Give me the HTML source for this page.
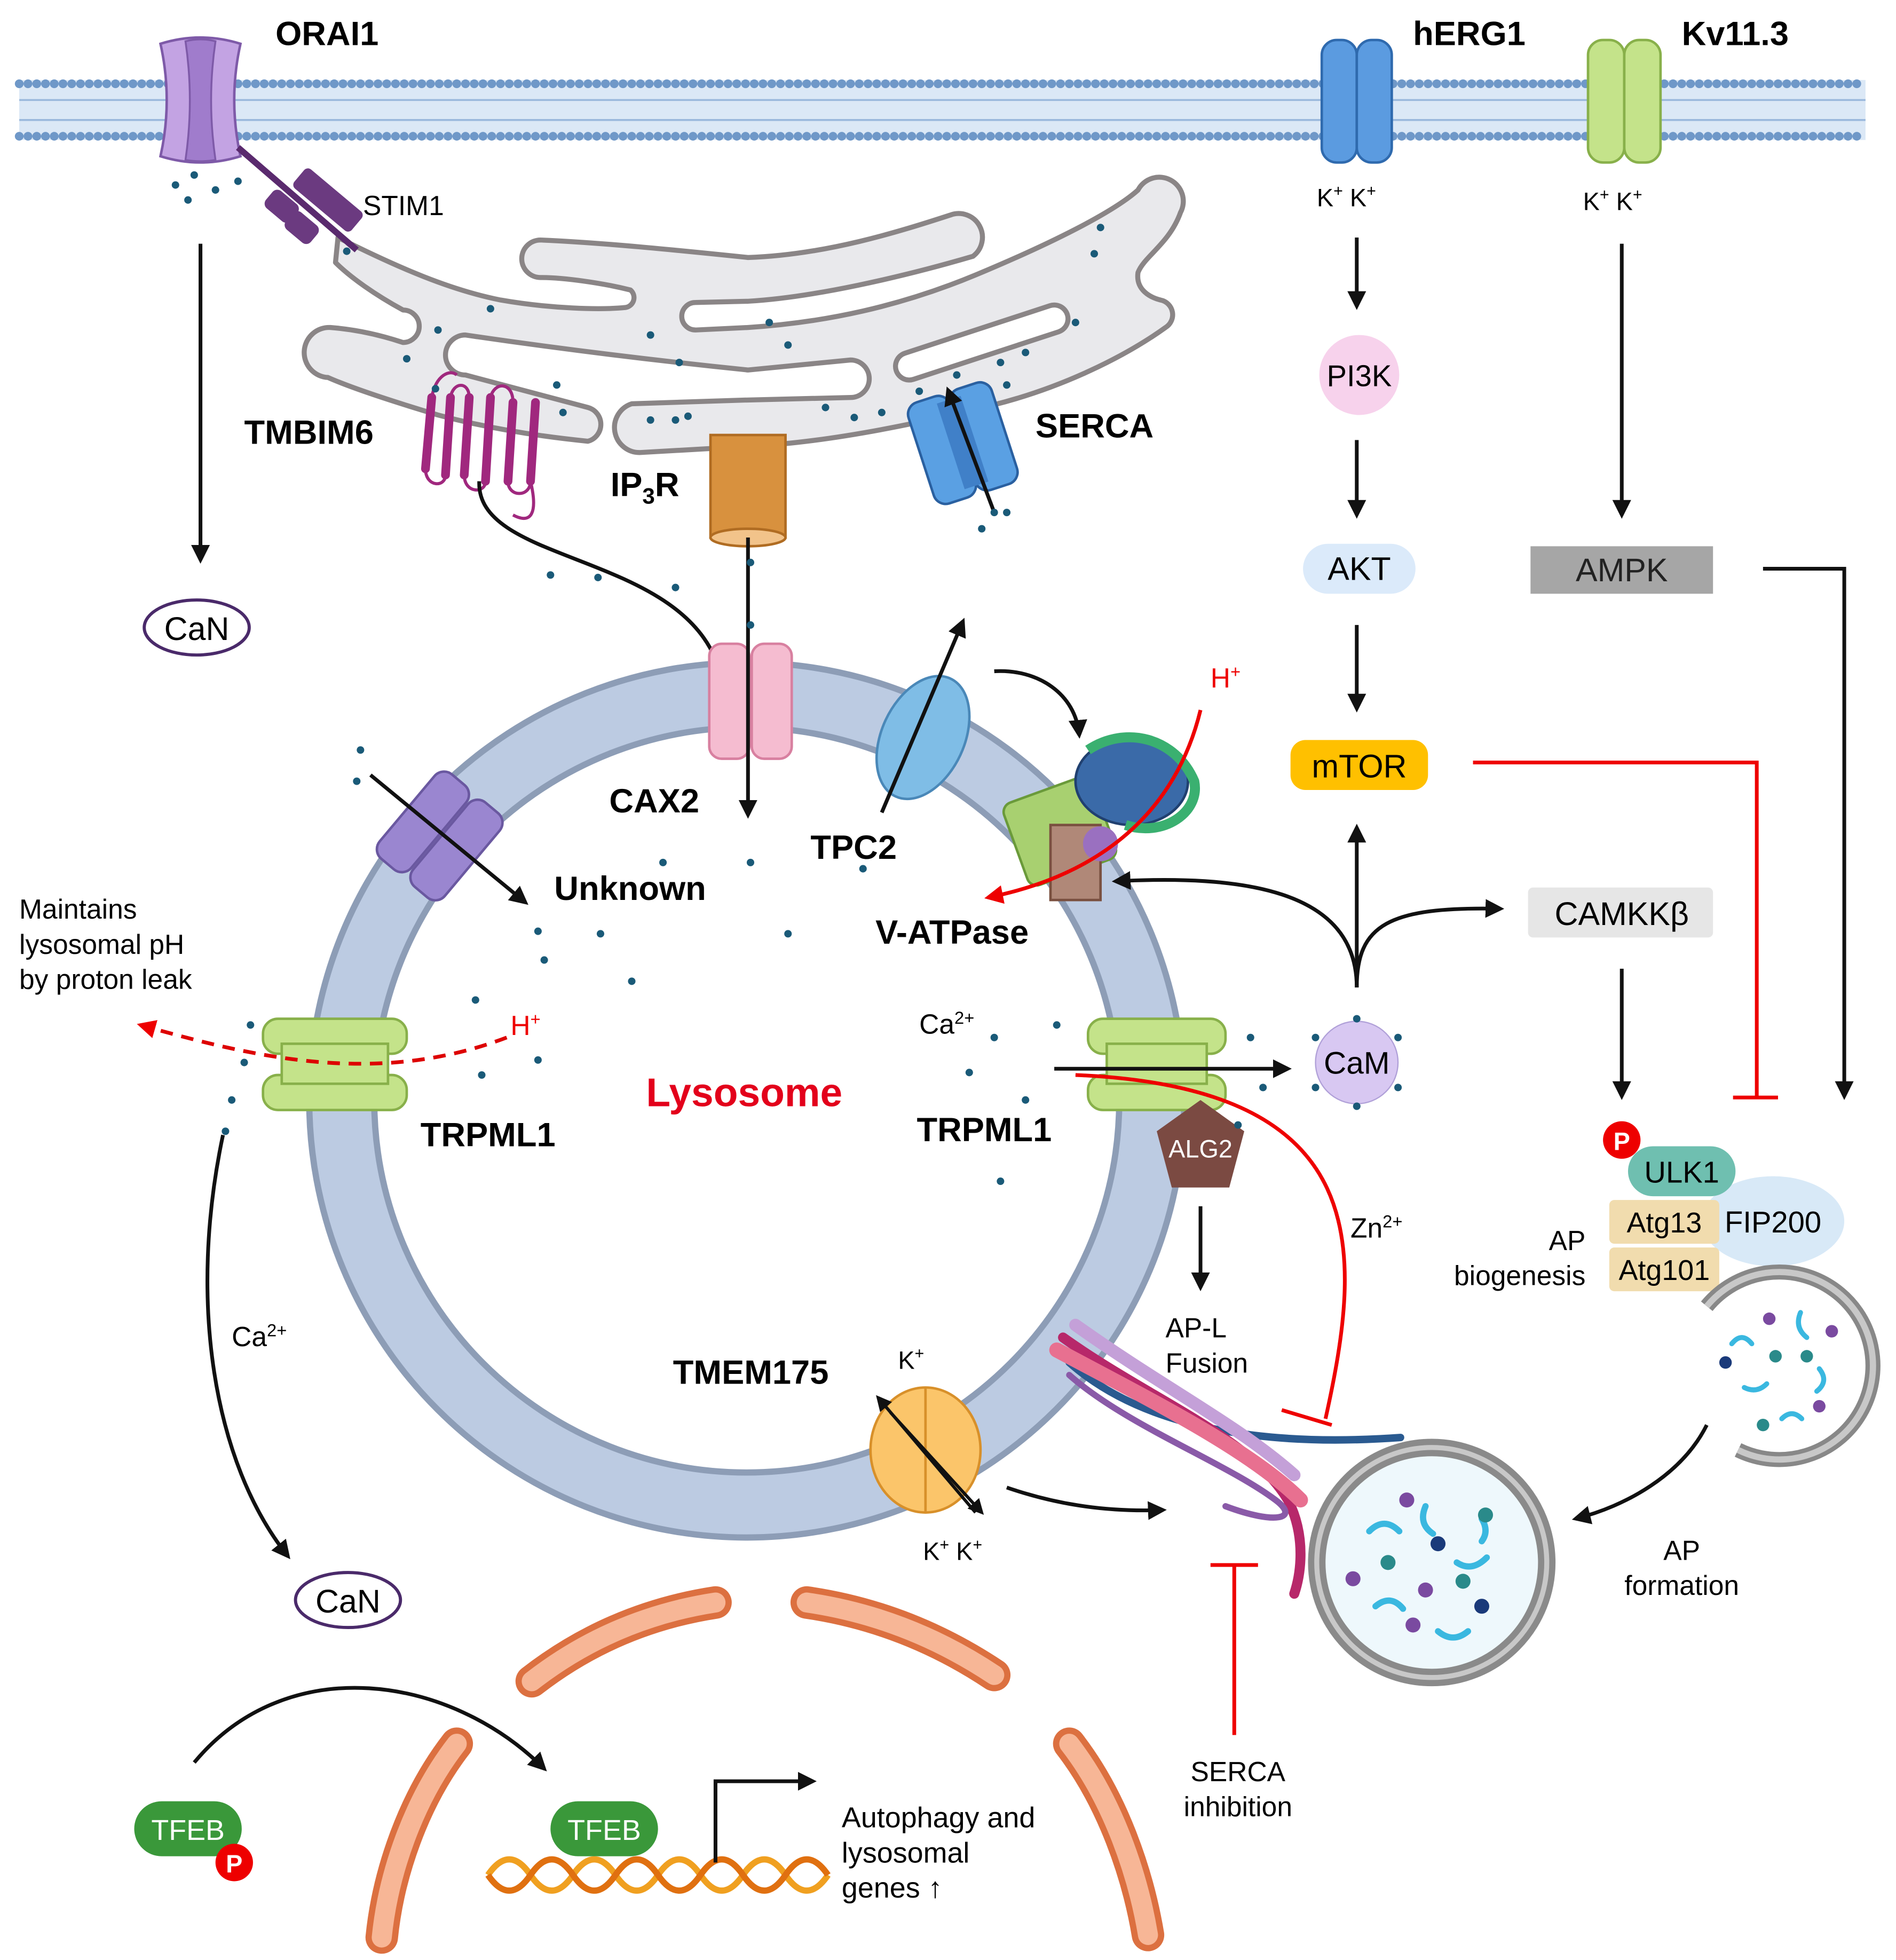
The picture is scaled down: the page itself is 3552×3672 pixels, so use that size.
<!DOCTYPE html>
<html><head><meta charset="utf-8"><style>html,body{margin:0;padding:0;background:#fff}svg{display:block}text{font-family:"Liberation Sans",sans-serif}</style></head><body>
<svg width="3552" height="3672" viewBox="0 0 1516 1568" xmlns="http://www.w3.org/2000/svg">
<defs>
<marker id="a" viewBox="0 0 10 10" refX="8" refY="5" markerWidth="5" markerHeight="5" orient="auto"><path d="M0,0L10,5L0,10z" fill="#111"/></marker>
<marker id="r" viewBox="0 0 10 10" refX="8" refY="5" markerWidth="5" markerHeight="5" orient="auto"><path d="M0,0L10,5L0,10z" fill="#e00"/></marker>
</defs>
<!-- membrane -->
<rect x="15" y="64" width="1477" height="48" fill="#dbe8f6"/>
<line x1="15" y1="67" x2="1492" y2="67" stroke="#6f98c8" stroke-width="7" stroke-dasharray="0 7" stroke-linecap="round"/>
<line x1="15" y1="109" x2="1492" y2="109" stroke="#6f98c8" stroke-width="7" stroke-dasharray="0 7" stroke-linecap="round"/>
<line x1="15" y1="80" x2="1492" y2="80" stroke="#9ab8dc" stroke-width="1.5"/>
<line x1="15" y1="96" x2="1492" y2="96" stroke="#9ab8dc" stroke-width="1.5"/>
<!-- channels -->
<path d="M128 35 Q160 25 192 35 Q182 80 192 125 Q160 135 128 125 Q138 80 128 35Z" fill="#c3a3e3" stroke="#7e5aa8" stroke-width="2"/>
<path d="M148 33 Q160 30 172 33 Q165 80 172 128 Q160 130 148 128 Q155 80 148 33Z" fill="#a07ccc" stroke="#7e5aa8" stroke-width="1.5"/>
<g><rect x="1057" y="32" width="28" height="98" rx="12" fill="#5b9be0" stroke="#2f6aae" stroke-width="2"/><rect x="1085" y="32" width="28" height="98" rx="12" fill="#5b9be0" stroke="#2f6aae" stroke-width="2"/></g>
<g><rect x="1270" y="32" width="29" height="98" rx="12" fill="#c4e38a" stroke="#88b04a" stroke-width="2"/><rect x="1299" y="32" width="29" height="98" rx="12" fill="#c4e38a" stroke="#88b04a" stroke-width="2"/></g>
<text x="220" y="36" font-size="27" font-weight="bold">ORAI1</text>
<text x="1130" y="36" font-size="27" font-weight="bold">hERG1</text>
<text x="1345" y="36" font-size="27" font-weight="bold">Kv11.3</text>
<!-- ER -->
<path d="M270 190 C320 215 360 232 400 240 C440 247 480 248 500 246 A8 8 0 0 0 504 232 C480 226 450 222 432 222 A15 15 0 0 1 432 192 C480 194 540 200 598 206 C660 204 720 185 760 172 A19 19 0 0 1 778 205 C720 222 650 238 598 241 L556 242 A11 11 0 0 0 556 264 L598 262 C660 258 720 245 780 220 C840 195 890 170 910 152 A18 18 0 0 1 944 170 C935 195 915 205 910 218 C908 232 920 238 928 240 A12 12 0 0 1 932 262 C900 285 850 310 794 324 C730 340 660 354 600 357 L512 362 A20 20 0 0 1 505 323 L598 320 L680 318 A15 15 0 0 0 680 288 L598 296 C520 288 440 278 372 268 A16 16 0 0 0 372 300 C410 310 440 318 470 326 A14 14 0 0 1 470 353 C420 348 380 340 350 332 C310 320 280 310 262 302 A20 20 0 0 1 264 262 C290 264 310 270 322 274 A13 13 0 0 0 322 248 C300 236 280 222 268 210 Z" fill="#e9e9ec" stroke="#8a8586" stroke-width="4" stroke-linejoin="round"/>
<line x1="727" y1="293" x2="843" y2="255" stroke="#8a8586" stroke-width="26" stroke-linecap="round"/>
<line x1="727" y1="293" x2="843" y2="255" stroke="#fff" stroke-width="18" stroke-linecap="round"/>
<!-- STIM1 -->
<path d="M190 118 L285 200" stroke="#5a2a6e" stroke-width="5"/>
<rect x="232" y="150" width="60" height="20" rx="4" fill="#6b3a80" transform="rotate(40 262 160)"/>
<rect x="212" y="156" width="26" height="18" rx="5" fill="#6b3a80" transform="rotate(40 225 165)"/>
<rect x="228" y="173" width="26" height="18" rx="5" fill="#6b3a80" transform="rotate(40 241 182)"/>
<text x="290" y="172" font-size="22">STIM1</text>
<!-- TMBIM6 -->
<g stroke="#a0287e" stroke-width="7" stroke-linecap="round" fill="none">
<path d="M345 318 L340 375"/><path d="M360 318 L356 380"/><path d="M375 318 L371 380"/><path d="M392 318 L388 385"/><path d="M410 322 L406 385"/><path d="M428 322 L424 385"/>
</g>
<g stroke="#a0287e" stroke-width="2.5" fill="none">
<path d="M360 318 C362 305 375 305 375 318 M392 318 C395 305 410 305 410 322 M340 375 C340 390 356 390 356 380 M371 380 C371 395 388 395 388 385 M406 385 C406 398 424 398 424 385 M424 385 C430 410 425 420 410 412 M345 318 C348 300 360 295 365 300"/>
</g>
<text x="195" y="355" font-size="27" font-weight="bold">TMBIM6</text>
<!-- IP3R -->
<rect x="568" y="348" width="60" height="82" fill="#d8913e" stroke="#b06c22" stroke-width="2"/>
<ellipse cx="598" cy="430" rx="30" ry="7" fill="#f2c38a" stroke="#b06c22" stroke-width="2"/>
<text x="488" y="397" font-size="27" font-weight="bold">IP<tspan font-size="18" dy="6">3</tspan><tspan dy="-6">R</tspan></text>
<!-- SERCA -->
<g transform="rotate(-18 770 355)"><rect x="735" y="312" width="35" height="85" rx="10" fill="#5aa0e3" stroke="#2a60a0" stroke-width="2"/><rect x="770" y="312" width="35" height="85" rx="10" fill="#5aa0e3" stroke="#2a60a0" stroke-width="2"/><rect x="760" y="318" width="20" height="72" fill="#4080c8"/></g>
<line x1="795" y1="410" x2="758" y2="312" stroke="#111" stroke-width="3" marker-end="url(#a)"/>
<text x="828" y="350" font-size="27" font-weight="bold">SERCA</text>
<!-- CaN top -->
<line x1="160" y1="195" x2="160" y2="448" stroke="#111" stroke-width="3" marker-end="url(#a)"/>
<ellipse cx="157" cy="502" rx="42" ry="22" fill="#fff" stroke="#4a2a6a" stroke-width="2.5"/>
<text x="157" y="512" font-size="26" text-anchor="middle">CaN</text>
<!-- Lysosome -->
<circle cx="597" cy="880" r="324" fill="none" stroke="#bccbe2" stroke-width="50"/>
<circle cx="597" cy="880" r="350" fill="none" stroke="#8d9db6" stroke-width="5"/>
<circle cx="597" cy="880" r="298" fill="none" stroke="#8d9db6" stroke-width="5"/>
<text x="595" y="885" font-size="32" font-weight="bold" fill="#e3001b" text-anchor="middle">Lysosome</text>
<path d="M383 385 C380 455 560 440 578 548" fill="none" stroke="#111" stroke-width="3" marker-end="url(#a)"/>
<!-- CAX2 -->
<g><rect x="567" y="515" width="32" height="92" rx="10" fill="#f5bcd0" stroke="#d880a0" stroke-width="2"/><rect x="601" y="515" width="32" height="92" rx="10" fill="#f5bcd0" stroke="#d880a0" stroke-width="2"/></g>
<line x1="598" y1="430" x2="598" y2="652" stroke="#111" stroke-width="3" marker-end="url(#a)"/>
<text x="487" y="650" font-size="27" font-weight="bold">CAX2</text>
<!-- TPC2 -->
<ellipse cx="738" cy="590" rx="33" ry="52" fill="#7fbde6" stroke="#4a88b8" stroke-width="2" transform="rotate(25 738 590)"/>
<line x1="705" y1="650" x2="770" y2="497" stroke="#111" stroke-width="3" marker-end="url(#a)"/>
<text x="648" y="687" font-size="27" font-weight="bold">TPC2</text>
<path d="M795 537 C830 535 860 555 863 588" fill="none" stroke="#111" stroke-width="3" marker-end="url(#a)"/>
<!-- V-ATPase -->
<g>
<rect x="810" y="630" width="75" height="70" rx="8" fill="#a8d070" stroke="#6a9a3a" stroke-width="2" transform="rotate(-20 847 665)"/>
<rect x="840" y="660" width="40" height="60" fill="#b08878" stroke="#7a5040" stroke-width="2"/>
<ellipse cx="905" cy="625" rx="45" ry="35" fill="#3a6aa8" stroke="#204070" stroke-width="2"/>
<path d="M870 600 C900 580 940 590 955 625 C960 650 930 670 900 660" fill="none" stroke="#3ab070" stroke-width="8"/>
<circle cx="880" cy="675" r="14" fill="#9a70c0"/>
</g>
<text x="968" y="550" font-size="22" fill="#e00">H<tspan font-size="14" dy="-8">+</tspan></text>
<path d="M960 568 C940 650 880 700 790 718" fill="none" stroke="#e00" stroke-width="3" marker-end="url(#r)"/>
<text x="700" y="755" font-size="27" font-weight="bold">V-ATPase</text>
<!-- Unknown -->
<g transform="rotate(40 352 668)"><rect x="318" y="625" width="33" height="88" rx="10" fill="#9a86d0" stroke="#6a58a0" stroke-width="2"/><rect x="353" y="625" width="33" height="88" rx="10" fill="#9a86d0" stroke="#6a58a0" stroke-width="2"/></g>
<line x1="296" y1="620" x2="420" y2="722" stroke="#111" stroke-width="3" marker-end="url(#a)"/>
<text x="443" y="720" font-size="27" font-weight="bold">Unknown</text>
<text x="15" y="735" font-size="22">Maintains</text>
<text x="15" y="763" font-size="22">lysosomal pH</text>
<text x="15" y="791" font-size="22">by proton leak</text>
<!-- TRPML1 left -->
<g><rect x="210" y="815" width="115" height="28" rx="12" fill="#c4e38a" stroke="#88b04a" stroke-width="2"/><rect x="210" y="860" width="115" height="28" rx="12" fill="#c4e38a" stroke="#88b04a" stroke-width="2"/><rect x="225" y="835" width="85" height="32" fill="#c4e38a" stroke="#88b04a" stroke-width="2"/></g>
<path d="M405 830 C300 870 200 845 112 820" fill="none" stroke="#d00" stroke-width="3" stroke-dasharray="10 7" marker-end="url(#r)"/>
<text x="408" y="828" font-size="22" fill="#e00">H<tspan font-size="14" dy="-8">+</tspan></text>
<text x="336" y="917" font-size="27" font-weight="bold">TRPML1</text>
<!-- TRPML1 right -->
<g><rect x="870" y="815" width="110" height="28" rx="12" fill="#c4e38a" stroke="#88b04a" stroke-width="2"/><rect x="870" y="860" width="110" height="28" rx="12" fill="#c4e38a" stroke="#88b04a" stroke-width="2"/><rect x="885" y="835" width="80" height="32" fill="#c4e38a" stroke="#88b04a" stroke-width="2"/></g>
<text x="735" y="827" font-size="22">Ca<tspan font-size="14" dy="-8">2+</tspan></text>
<text x="733" y="913" font-size="27" font-weight="bold">TRPML1</text>
<line x1="843" y1="855" x2="1030" y2="855" stroke="#111" stroke-width="3" marker-end="url(#a)"/>
<path d="M860 860 C1100 870 1090 1000 1060 1135" fill="none" stroke="#e00" stroke-width="3"/>
<line x1="1025" y1="1128" x2="1065" y2="1140" stroke="#e00" stroke-width="3"/>
<text x="1080" y="990" font-size="22">Zn<tspan font-size="14" dy="-8">2+</tspan></text>
<polygon points="960,880 995,905 983,950 937,950 925,905" fill="#7b4a42"/>
<text x="960" y="926" font-size="20" fill="#fff" text-anchor="middle">ALG2</text>
<line x1="960" y1="965" x2="960" y2="1030" stroke="#111" stroke-width="3" marker-end="url(#a)"/>
<text x="932" y="1070" font-size="22">AP-L</text>
<text x="932" y="1098" font-size="22">Fusion</text>
<!-- CaM -->
<circle cx="1085" cy="850" r="33" fill="#d8c8f2" stroke="#b0a0d8" stroke-width="1"/>
<text x="1085" y="859" font-size="25" text-anchor="middle">CaM</text>
<line x1="1085" y1="790" x2="1085" y2="662" stroke="#111" stroke-width="3" marker-end="url(#a)"/>
<path d="M1085 790 C1085 710 990 700 892 705" fill="none" stroke="#111" stroke-width="3" marker-end="url(#a)"/>
<path d="M1085 790 C1085 740 1110 725 1200 727" fill="none" stroke="#111" stroke-width="3" marker-end="url(#a)"/>
<!-- right pathway -->
<text x="1053" y="165" font-size="20">K<tspan font-size="13" dy="-8">+</tspan><tspan dy="8"> K</tspan><tspan font-size="13" dy="-8">+</tspan></text>
<text x="1266" y="168" font-size="20">K<tspan font-size="13" dy="-8">+</tspan><tspan dy="8"> K</tspan><tspan font-size="13" dy="-8">+</tspan></text>
<line x1="1085" y1="190" x2="1085" y2="245" stroke="#111" stroke-width="3" marker-end="url(#a)"/>
<circle cx="1087" cy="300" r="32" fill="#f7d2ec"/>
<text x="1087" y="309" font-size="24" text-anchor="middle">PI3K</text>
<line x1="1085" y1="352" x2="1085" y2="412" stroke="#111" stroke-width="3" marker-end="url(#a)"/>
<rect x="1042" y="435" width="90" height="40" rx="20" fill="#dbeafa"/>
<text x="1087" y="464" font-size="26" text-anchor="middle">AKT</text>
<line x1="1085" y1="500" x2="1085" y2="567" stroke="#111" stroke-width="3" marker-end="url(#a)"/>
<rect x="1032" y="592" width="110" height="40" rx="12" fill="#ffc000"/>
<text x="1087" y="622" font-size="26" text-anchor="middle">mTOR</text>
<polyline points="1178,610 1405,610 1405,878" fill="none" stroke="#e00" stroke-width="3"/>
<line x1="1386" y1="878" x2="1422" y2="878" stroke="#e00" stroke-width="3"/>
<line x1="1297" y1="195" x2="1297" y2="412" stroke="#111" stroke-width="3" marker-end="url(#a)"/>
<rect x="1224" y="437" width="146" height="38" fill="#a6a6a6"/>
<text x="1297" y="465" font-size="26" text-anchor="middle" fill="#222">AMPK</text>
<polyline points="1410,455 1475,455 1475,877" fill="none" stroke="#111" stroke-width="3" marker-end="url(#a)"/>
<rect x="1222" y="710" width="148" height="40" rx="4" fill="#e6e6e6"/>
<text x="1297" y="740" font-size="26" text-anchor="middle">CAMKKβ</text>
<line x1="1297" y1="775" x2="1297" y2="877" stroke="#111" stroke-width="3" marker-end="url(#a)"/>
<!-- ULK complex -->
<ellipse cx="1418" cy="977" rx="57" ry="36" fill="#d8e9f7"/>
<text x="1418" y="986" font-size="24" text-anchor="middle">FIP200</text>
<rect x="1302" y="917" width="86" height="40" rx="20" fill="#6fbfb0"/>
<text x="1345" y="946" font-size="24" text-anchor="middle">ULK1</text>
<circle cx="1297" cy="912" r="15" fill="#e00"/>
<text x="1297" y="920" font-size="20" font-weight="bold" fill="#fff" text-anchor="middle">P</text>
<rect x="1287" y="960" width="88" height="35" rx="4" fill="#f1dcae"/>
<text x="1331" y="986" font-size="23" text-anchor="middle">Atg13</text>
<rect x="1287" y="998" width="88" height="35" rx="4" fill="#f1dcae"/>
<text x="1331" y="1024" font-size="23" text-anchor="middle">Atg101</text>
<text x="1268" y="1000" font-size="22" text-anchor="end">AP</text>
<text x="1268" y="1028" font-size="22" text-anchor="end">biogenesis</text>
<!-- phagophore -->
<path d="M1365 1045 A75 75 0 1 1 1390 1160" fill="none" stroke="#888" stroke-width="12"/>
<path d="M1365 1045 A75 75 0 1 1 1390 1160" fill="none" stroke="#c8c8c8" stroke-width="5"/>
<g fill="none" stroke="#3ab8e0" stroke-width="4" stroke-linecap="round">
<path d="M1385 1075 q8 -10 16 0"/><path d="M1440 1050 q-5 12 5 20"/><path d="M1395 1110 q10 5 18 -3"/><path d="M1455 1095 q8 10 -2 18"/><path d="M1425 1135 q8 -8 16 0"/></g>
<g><circle cx="1415" cy="1055" r="5" fill="#7a4aa0"/><circle cx="1380" cy="1090" r="5" fill="#1a3a7a"/><circle cx="1420" cy="1085" r="5" fill="#2a8a8a"/><circle cx="1445" cy="1085" r="5" fill="#2a8a8a"/><circle cx="1465" cy="1065" r="5" fill="#7a4aa0"/><circle cx="1410" cy="1140" r="5" fill="#2a8a8a"/><circle cx="1455" cy="1125" r="5" fill="#7a4aa0"/></g>
<path d="M1365 1140 C1345 1180 1300 1205 1260 1215" fill="none" stroke="#111" stroke-width="3" marker-end="url(#a)"/>
<text x="1345" y="1248" font-size="22" text-anchor="middle">AP</text>
<text x="1345" y="1276" font-size="22" text-anchor="middle">formation</text>
<!-- autophagosome -->
<circle cx="1145" cy="1250" r="92" fill="#eef8fc" stroke="#8a8a8a" stroke-width="14"/>
<circle cx="1145" cy="1250" r="92" fill="none" stroke="#c8c8c8" stroke-width="4"/>
<g fill="none" stroke="#3ab8e0" stroke-width="5" stroke-linecap="round">
<path d="M1095 1225 q12 -12 24 0"/><path d="M1140 1205 q-6 14 6 22"/><path d="M1165 1250 q12 8 24 -4"/><path d="M1100 1285 q12 -10 22 2"/><path d="M1150 1305 q12 10 24 0"/><path d="M1185 1215 q6 10 0 18"/></g>
<g><circle cx="1125" cy="1200" r="6" fill="#7a4aa0"/><circle cx="1188" cy="1212" r="6" fill="#2a8a8a"/><circle cx="1150" cy="1235" r="6" fill="#1a3a7a"/><circle cx="1110" cy="1250" r="6" fill="#2a8a8a"/><circle cx="1082" cy="1263" r="6" fill="#7a4aa0"/><circle cx="1140" cy="1272" r="6" fill="#7a4aa0"/><circle cx="1170" cy="1265" r="6" fill="#2a8a8a"/><circle cx="1185" cy="1285" r="6" fill="#1a3a7a"/><circle cx="1130" cy="1300" r="6" fill="#7a4aa0"/></g>
<g fill="none" stroke-linecap="round">
<path d="M855 1090 C900 1130 980 1160 1120 1150" stroke="#2a5a90" stroke-width="6"/>
<path d="M850 1070 C920 1120 1000 1150 1030 1200 C1045 1230 1040 1260 1035 1275" stroke="#b7286a" stroke-width="8"/>
<path d="M845 1080 C920 1120 1000 1160 1040 1200" stroke="#e87090" stroke-width="12"/>
<path d="M855 1100 C900 1140 980 1170 1020 1200 C1040 1215 1020 1220 980 1205" stroke="#8a5aa8" stroke-width="5"/>
<path d="M860 1060 C930 1110 990 1140 1035 1180" stroke="#c4a0d8" stroke-width="10"/>
</g>
<line x1="987" y1="1388" x2="987" y2="1252" stroke="#e00" stroke-width="3"/>
<line x1="968" y1="1252" x2="1006" y2="1252" stroke="#e00" stroke-width="3"/>
<text x="990" y="1425" font-size="22" text-anchor="middle">SERCA</text>
<text x="990" y="1453" font-size="22" text-anchor="middle">inhibition</text>
<!-- TMEM175 -->
<ellipse cx="740" cy="1160" rx="44" ry="50" fill="#fbc56a" stroke="#d8902a" stroke-width="2"/>
<line x1="740" y1="1110" x2="740" y2="1210" stroke="#d8902a" stroke-width="2"/>
<line x1="780" y1="1210" x2="702" y2="1118" stroke="#111" stroke-width="2.5" marker-end="url(#a)"/>
<line x1="712" y1="1130" x2="785" y2="1210" stroke="#111" stroke-width="2.5" marker-end="url(#a)"/>
<text x="538" y="1107" font-size="27" font-weight="bold">TMEM175</text>
<text x="718" y="1095" font-size="20">K<tspan font-size="13" dy="-8">+</tspan></text>
<text x="738" y="1248" font-size="20">K<tspan font-size="13" dy="-8">+</tspan><tspan dy="8"> K</tspan><tspan font-size="13" dy="-8">+</tspan></text>
<path d="M805 1190 C840 1202 880 1210 930 1208" fill="none" stroke="#111" stroke-width="3" marker-end="url(#a)"/>
<path d="M178 908 C150 1040 170 1170 230 1245" fill="none" stroke="#111" stroke-width="3" marker-end="url(#a)"/>
<text x="185" y="1077" font-size="22">Ca<tspan font-size="14" dy="-8">2+</tspan></text>
<ellipse cx="278" cy="1280" rx="42" ry="22" fill="#fff" stroke="#4a2a6a" stroke-width="2.5"/>
<text x="278" y="1290" font-size="26" text-anchor="middle">CaN</text>
<!-- mitochondria -->
<g fill="none" stroke-linecap="round">
<g stroke="#dc7040" stroke-width="26"><path d="M425 1345 C470 1310 520 1290 572 1282"/><path d="M645 1282 C700 1290 750 1310 795 1340"/><path d="M365 1395 C330 1440 310 1500 305 1550"/><path d="M855 1395 C890 1440 910 1500 918 1548"/></g>
<g stroke="#f7b696" stroke-width="16"><path d="M425 1345 C470 1310 520 1290 572 1282"/><path d="M645 1282 C700 1290 750 1310 795 1340"/><path d="M365 1395 C330 1440 310 1500 305 1550"/><path d="M855 1395 C890 1440 910 1500 918 1548"/></g>
</g>
<!-- TFEB -->
<path d="M155 1410 C230 1320 360 1340 435 1415" fill="none" stroke="#111" stroke-width="3" marker-end="url(#a)"/>
<rect x="107" y="1441" width="86" height="44" rx="22" fill="#3a983a"/>
<text x="150" y="1472" font-size="23" fill="#fff" text-anchor="middle">TFEB</text>
<circle cx="187" cy="1490" r="15" fill="#e00"/>
<text x="187" y="1498" font-size="20" font-weight="bold" fill="#fff" text-anchor="middle">P</text>
<g fill="none" stroke-width="5">
<path d="M390 1500 q17 -25 34 0 t34 0 t34 0 t34 0 t34 0 t34 0 t34 0 t34 0" stroke="#f0a020"/>
<path d="M390 1500 q17 25 34 0 t34 0 t34 0 t34 0 t34 0 t34 0 t34 0 t34 0" stroke="#e07010"/>
</g>
<rect x="440" y="1441" width="86" height="44" rx="22" fill="#3a983a"/>
<text x="483" y="1472" font-size="23" fill="#fff" text-anchor="middle">TFEB</text>
<polyline points="572,1490 572,1425 650,1425" fill="none" stroke="#111" stroke-width="3" marker-end="url(#a)"/>
<text x="673" y="1462" font-size="23">Autophagy and</text>
<text x="673" y="1490" font-size="23">lysosomal</text>
<text x="673" y="1518" font-size="23">genes ↑</text>
<!-- Ca dots -->
<g fill="#1a5a78">
<circle cx="140" cy="148" r="3"/><circle cx="155" cy="140" r="3"/><circle cx="172" cy="152" r="3"/><circle cx="190" cy="145" r="3"/><circle cx="150" cy="160" r="3"/>
<circle cx="277" cy="201" r="3"/><circle cx="392" cy="247" r="3"/><circle cx="350" cy="264" r="3"/><circle cx="325" cy="287" r="3"/><circle cx="348" cy="311" r="3"/><circle cx="450" cy="330" r="3"/><circle cx="445" cy="308" r="3"/><circle cx="520" cy="336" r="3"/><circle cx="540" cy="336" r="3"/><circle cx="550" cy="333" r="3"/><circle cx="520" cy="268" r="3"/><circle cx="543" cy="290" r="3"/><circle cx="615" cy="258" r="3"/><circle cx="630" cy="276" r="3"/><circle cx="660" cy="326" r="3"/><circle cx="683" cy="334" r="3"/><circle cx="705" cy="330" r="3"/><circle cx="735" cy="313" r="3"/><circle cx="765" cy="300" r="3"/><circle cx="800" cy="290" r="3"/><circle cx="820" cy="282" r="3"/><circle cx="860" cy="258" r="3"/><circle cx="880" cy="182" r="3"/><circle cx="875" cy="203" r="3"/><circle cx="805" cy="308" r="3"/>
<circle cx="440" cy="460" r="3"/><circle cx="478" cy="462" r="3"/><circle cx="540" cy="470" r="3"/><circle cx="600" cy="450" r="3"/><circle cx="600" cy="500" r="3"/>
<circle cx="795" cy="410" r="3"/><circle cx="805" cy="410" r="3"/><circle cx="785" cy="423" r="3"/><circle cx="690" cy="695" r="3"/><circle cx="630" cy="747" r="3"/><circle cx="480" cy="747" r="3"/><circle cx="430" cy="745" r="3"/><circle cx="435" cy="768" r="3"/><circle cx="505" cy="785" r="3"/><circle cx="530" cy="690" r="3"/><circle cx="600" cy="690" r="3"/><circle cx="288" cy="600" r="3"/><circle cx="285" cy="625" r="3"/>
<circle cx="380" cy="800" r="3"/><circle cx="385" cy="860" r="3"/><circle cx="430" cy="848" r="3"/><circle cx="195" cy="850" r="3"/><circle cx="185" cy="880" r="3"/><circle cx="180" cy="905" r="3"/><circle cx="200" cy="820" r="3"/>
<circle cx="775" cy="858" r="3"/><circle cx="795" cy="830" r="3"/><circle cx="820" cy="880" r="3"/><circle cx="845" cy="820" r="3"/><circle cx="800" cy="945" r="3"/><circle cx="1000" cy="830" r="3"/><circle cx="1010" cy="870" r="3"/><circle cx="990" cy="900" r="3"/>
<circle cx="1052" cy="830" r="3"/><circle cx="1118" cy="830" r="3"/><circle cx="1052" cy="870" r="3"/><circle cx="1118" cy="870" r="3"/><circle cx="1085" cy="815" r="3"/><circle cx="1085" cy="885" r="3"/>
</g>
</svg>
</body></html>
